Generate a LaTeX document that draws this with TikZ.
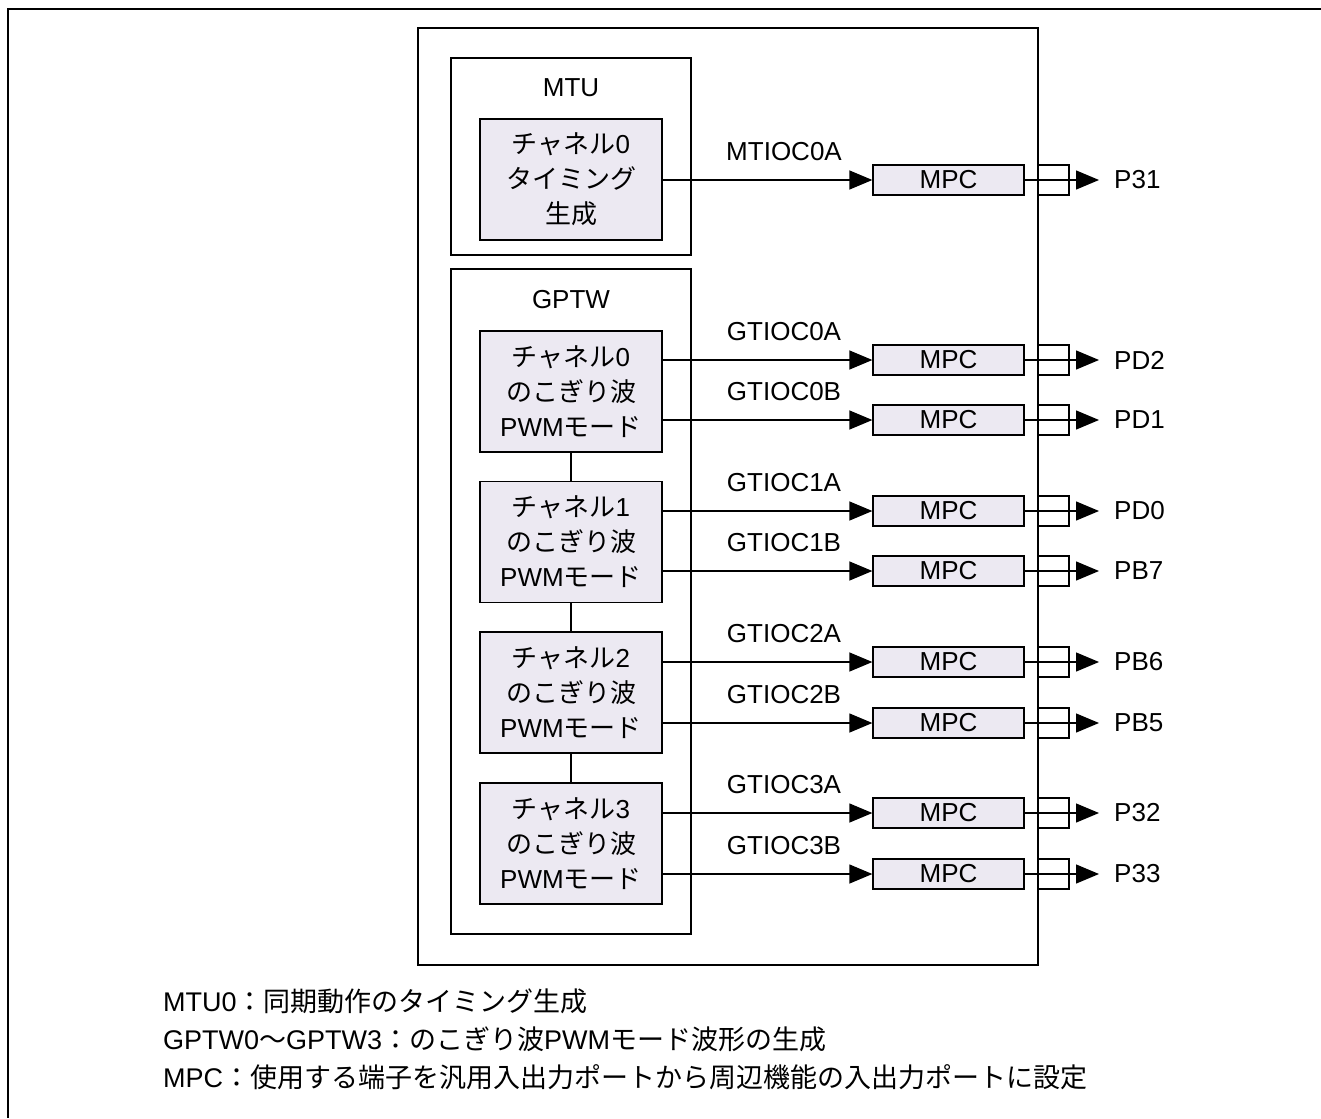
\documentclass[tikz,border=0pt]{standalone}
\usepackage{fontspec}
\setmainfont{Liberation Sans}
\newfontfamily\jp{Noto Sans CJK JP}
\usetikzlibrary{arrows.meta}
\definecolor{boxfill}{RGB}{236,233,242}
\begin{document}
\begin{tikzpicture}[x=1pt,y=-1pt,
  font=\fontsize{26}{35}\selectfont,
  frame/.style={draw, line width=1.3pt},
  chbox/.style={draw, line width=1.3pt, fill=boxfill, minimum width=182pt, minimum height=121pt, align=center, inner sep=0pt},
  mpcbox/.style={draw, line width=1.3pt, fill=boxfill, minimum width=151pt, minimum height=30pt, inner sep=0pt},
  pinbox/.style={draw, line width=1.3pt, minimum width=31pt, minimum height=30pt, inner sep=0pt},
  sig/.style={line width=1.3pt, -{Triangle[length=23pt,width=19pt]}},
  link/.style={line width=1.3pt},
  lbl/.style={inner sep=0pt},
  note/.style={inner sep=0pt, anchor=west, font=\fontsize{27}{35}\selectfont},
]
\useasboundingbox (0,0) rectangle (1321,1118);
% outer frame (top and left only)
\draw[line width=2pt] (1321,9) -- (8,9) -- (8,1118);
% chip box
\draw[frame] (418,28) rectangle (1038,965);
% MTU box
\draw[frame] (451,58) rectangle (691,255);
\node[lbl] (mtulbl) at (571,88) {MTU};
\node[chbox] (mtuch) at (571,179.5) {{\jp チャネル}0\\{\jp タイミング}\\{\jp 生成}};
% GPTW box
\draw[frame] (451,269) rectangle (691,934);
\node[lbl] (gptwlbl) at (571,300) {GPTW};
\node[chbox] (ch0) at (571,391.5) {{\jp チャネル}0\\{\jp のこぎり波}\\PWM{\jp モード}};
\node[chbox] (ch1) at (571,542) {{\jp チャネル}1\\{\jp のこぎり波}\\PWM{\jp モード}};
\node[chbox] (ch2) at (571,692.5) {{\jp チャネル}2\\{\jp のこぎり波}\\PWM{\jp モード}};
\node[chbox] (ch3) at (571,843.5) {{\jp チャネル}3\\{\jp のこぎり波}\\PWM{\jp モード}};
\draw[link] (ch0.south) -- (ch1.north);
\draw[link] (ch1.south) -- (ch2.north);
\draw[link] (ch2.south) -- (ch3.north);
% signal rows
\foreach \i/\sname/\pname/\yy/\src in {
  1/MTIOC0A/P31/180/mtuch,
  2/GTIOC0A/PD2/360/ch0,
  3/GTIOC0B/PD1/420/ch0,
  4/GTIOC1A/PD0/511/ch1,
  5/GTIOC1B/PB7/571/ch1,
  6/GTIOC2A/PB6/662/ch2,
  7/GTIOC2B/PB5/723/ch2,
  8/GTIOC3A/P32/813/ch3,
  9/GTIOC3B/P33/874/ch3}{
  \node[mpcbox] (mpc\i) at (948.5,\yy) {MPC};
  \node[pinbox] (pin\i) at (1053.5,\yy) {};
  \node[lbl, anchor=west] (pl\i) at (1114,\yy) {\pname};
  \node[lbl] (sl\i) at (784,\yy-28) {\sname};
  \coordinate (end\i) at (1099,\yy);
  \draw[sig] (\src.east |- mpc\i.west) -- (mpc\i.west);
  \draw[sig] (mpc\i.east) -- (end\i);
}
% notes
\node[note] (n1) at (163,1001) {MTU0{\jp ：同期動作のタイミング生成}};
\node[note] (n2) at (163,1039) {GPTW0{\jp ～}GPTW3{\jp ：のこぎり波}PWM{\jp モード波形の生成}};
\node[note] (n3) at (163,1077) {MPC{\jp ：使用する端子を汎用入出力ポートから周辺機能の入出力ポートに設定}};
\end{tikzpicture}
\end{document}
